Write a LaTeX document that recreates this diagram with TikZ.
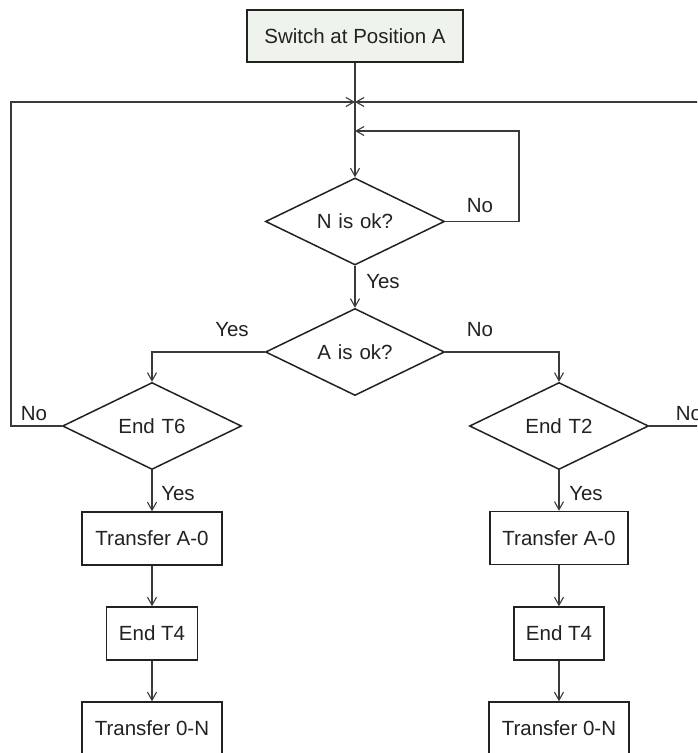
\documentclass[tikz,border=0pt]{standalone}
\usepackage{fontspec}
\setmainfont{Liberation Sans}
\usetikzlibrary{shapes.geometric,arrows.meta}
\definecolor{startfill}{HTML}{EEF3EC}
\definecolor{ink}{HTML}{222222}
\definecolor{wire}{HTML}{3A3A3A}
\tikzset{
  txt/.style={font=\fontsize{20.5}{24}\selectfont, text=ink},
  boxnode/.style={txt, draw=ink, line width=1.5pt, rectangle, inner sep=0pt, minimum height=53pt},
  decision/.style={txt, draw=ink, line width=1.5pt, diamond, inner sep=0pt, minimum width=179pt, minimum height=87pt, text width=1pt, align=center},
  conn/.style={draw=wire, line width=1.1pt},
  arr/.style={conn, -{Straight Barb[length=8pt,width=9pt,line width=1.1pt]}},
  lbl/.style={txt}
}
\begin{document}
\begin{tikzpicture}[x=1pt,y=-1pt]
\useasboundingbox (0,0) rectangle (697,753);
\clip (0,0) rectangle (697,753);
\fill[white] (0,0) rectangle (697,753);

\node[boxnode, fill=startfill, minimum width=216pt, minimum height=52pt] (start) at (355,36) {Switch at Position A};
\node[decision] (nok) at (355,221.5) {\hbox to 0pt{\hss N is ok?\hss}};
\node[decision] (aok) at (355,352) {\hbox to 0pt{\hss A is ok?\hss}};
\node[decision] (t6) at (152,426) {\hbox to 0pt{\hss End T6\hss}};
\node[decision] (t2) at (559,426) {\hbox to 0pt{\hss End T2\hss}};

\node[boxnode, minimum width=140pt] (la0) at (152,538.5) {Transfer A-0};
\node[boxnode, minimum width=91pt] (lt4) at (152,633.5) {End T4};
\node[boxnode, minimum width=140pt] (l0n) at (152,728.5) {Transfer 0-N};

\node[boxnode, minimum width=138pt] (ra0) at (559,538) {Transfer A-0};
\node[boxnode, minimum width=90pt] (rt4) at (559,633.5) {End T4};
\node[boxnode, minimum width=140pt] (r0n) at (559,728.5) {Transfer 0-N};

\coordinate (j) at (355,102);
\coordinate (loop) at (355,131);

% main spine
\draw[arr] (start.south) -- (nok.north);
% loops back to junction
\draw[arr] (t6.west) -- (11,426) -- (11,102) -- (j);
\draw[arr] (t2.east) -- (730,426) -- (730,102) -- (j);
\draw[arr] (nok.east) -- (519,221.5) -- (519,131) -- (loop);

\draw[arr] (nok.south) -- (aok.north);
\draw[arr] (aok.west) -| (t6.north);
\draw[arr] (aok.east) -| (t2.north);

\draw[arr] (t6.south) -- (la0.north);
\draw[arr] (la0.south) -- (lt4.north);
\draw[arr] (lt4.south) -- (l0n.north);

\draw[arr] (t2.south) -- (ra0.north);
\draw[arr] (ra0.south) -- (rt4.north);
\draw[arr] (rt4.south) -- (r0n.north);

% labels
\node[lbl] (lny) at (383,282) {Yes};
\node[lbl] (lnn) at (480,206) {No};
\node[lbl] (lay) at (232,330) {Yes};
\node[lbl] (lan) at (480,330) {No};
\node[lbl] (l6n) at (34,414) {No};
\node[lbl] (l2n) at (689,414) {No};
\node[lbl] (l6y) at (178,494) {Yes};
\node[lbl] (l2y) at (586,494) {Yes};
\end{tikzpicture}
\end{document}
